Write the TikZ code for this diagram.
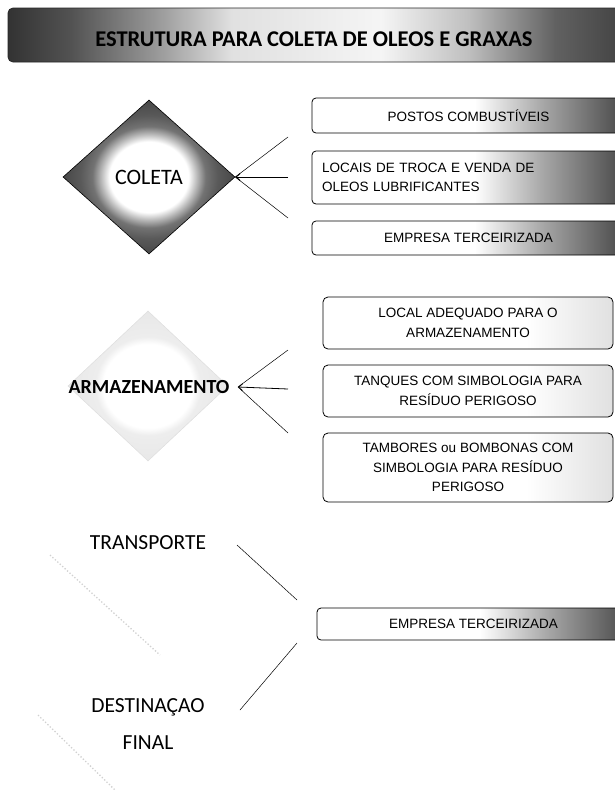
\documentclass[tikz,border=0pt]{standalone}
\usepackage{fontspec}
\setmainfont{Liberation Sans}
\newfontfamily\carlito{Carlito}
\usetikzlibrary{shapes.geometric,arrows.meta}

\pgfdeclarehorizontalshading{bannershade}{100bp}{color(0bp)=(black!80); color(25bp)=(black!80); color(30bp)=(black!68); color(37bp)=(black!40); color(43bp)=(black!12); color(55bp)=(black!4); color(62bp)=(black!25); color(69bp)=(black!62); color(75bp)=(black!75); color(100bp)=(black!75)}
\pgfdeclarehorizontalshading{boxshade}{100bp}{color(0bp)=(white); color(51bp)=(white); color(62bp)=(black!35); color(75bp)=(black!72); color(100bp)=(black!72)}
\pgfdeclarehorizontalshading{lightshade}{100bp}{color(0bp)=(white); color(60bp)=(white); color(75bp)=(black!12); color(100bp)=(black!12)}
\pgfdeclareradialshading{coletashade}{\pgfpoint{0bp}{0bp}}{color(0bp)=(white); color(11.5bp)=(white); color(14bp)=(black!28); color(16.5bp)=(black!55); color(20bp)=(black!65); color(25bp)=(black!72); color(50bp)=(black!72)}
\pgfdeclareradialshading{faintshade}{\pgfpoint{0bp}{0bp}}{color(0bp)=(white); color(14bp)=(white); color(16.5bp)=(black!7); color(25bp)=(black!9); color(50bp)=(black!9)}

\tikzset{
  conn/.style={draw=black, line width=0.5pt},
  midarrow/.style={draw=black, line width=1pt, -{Straight Barb[length=4pt,width=7pt]}},
  gbox/.style={draw=black, line width=0.8pt, rounded corners=4pt, shade, shading=boxshade,
    minimum width=313pt, inner sep=0pt, font=\fontsize{13.5}{19.5}\selectfont, align=center},
  wbox/.style={draw=black, line width=0.8pt, rounded corners=5pt, shade, shading=lightshade,
    minimum width=290pt, inner sep=0pt, font=\fontsize{13.5}{19.5}\selectfont, align=center},
  biglabel/.style={font=\carlito\fontsize{21.5}{37}\selectfont, align=center, inner sep=0pt},
  faint/.style={draw=black!18, dotted, line width=1.3pt},
}

\begin{document}
\begin{tikzpicture}[x=1pt,y=-1pt]
\useasboundingbox (0,0) rectangle (615,790);
\clip (0,0) rectangle (615,790);

% title banner
\shade[shading=bannershade, draw=black!85, line width=0.8pt, rounded corners=5pt] (8,8) rectangle (630,62);
\node[font=\carlito\bfseries\fontsize{22.5}{27}\selectfont, inner sep=0pt] (title) at (314,39) {ESTRUTURA PARA COLETA DE OLEOS E GRAXAS};

% COLETA
\node[diamond, shade, shading=coletashade, draw=black, line width=0.6pt, aspect=1.117,
  minimum width=172pt, minimum height=154pt, inner sep=0pt,
  font=\carlito\fontsize{22}{26}\selectfont] (coleta) at (149,177) {COLETA};

\node[gbox, minimum height=35pt] (postos) at (468.5,115.5) {POSTOS COMBUSTÍVEIS};
\node[gbox, minimum height=53pt, text width=293pt, align=left] (locais) at (468.5,177.5)
  {\makebox[278pt][s]{LOCAIS DE TROCA E VENDA DE}\\OLEOS LUBRIFICANTES};
\node[gbox, minimum height=34pt] (emp1) at (468.5,238) {EMPRESA TERCEIRIZADA};

\coordinate (c1a) at (288,137);
\coordinate (c1b) at (288,177);
\coordinate (c1c) at (288,218);
\draw[conn] (c1a) -- (coleta.east);
\draw[conn] (c1c) -- (coleta.east);
\draw[midarrow] (c1b) -- (coleta.east);

% ARMAZENAMENTO
\node[diamond, shade, shading=faintshade, draw=black!12, line width=0.6pt, aspect=1.07,
  minimum width=160pt, minimum height=150pt, inner sep=0pt] (armaz) at (148,386) {};
\node[font=\carlito\bfseries\fontsize{20}{24}\selectfont, inner sep=0pt] (armazt) at (149,387) {ARMAZENAMENTO};

\node[wbox, minimum height=52pt] (local) at (468,323) {LOCAL ADEQUADO PARA O\\ARMAZENAMENTO};
\node[wbox, minimum height=52pt] (tanq) at (468,391) {TANQUES COM SIMBOLOGIA PARA\\RESÍDUO PERIGOSO};
\node[wbox, minimum height=69pt] (tamb) at (468,467.5) {TAMBORES ou BOMBONAS COM\\SIMBOLOGIA PARA RESÍDUO\\PERIGOSO};

\coordinate (t2) at (238,387);
\coordinate (c2a) at (288,350);
\coordinate (c2b) at (288,389);
\coordinate (c2c) at (288,433);
\draw[conn] (c2a) -- (t2);
\draw[conn] (c2c) -- (t2);
\draw[midarrow, line width=0.8pt] (c2b) -- (t2);

% TRANSPORTE / DESTINACAO
\draw[faint] (50,555) -- (160,655);
\draw[faint] (38,715) -- (115,790);
\node[biglabel] (transp) at (148,543) {TRANSPORTE};
\node[biglabel] (dest) at (148,724) {DESTINAÇAO\\FINAL};

\node[gbox, minimum height=32pt] (emp2) at (473.5,624) {EMPRESA TERCEIRIZADA};

\coordinate (t1a) at (237,545);
\coordinate (t1b) at (297,600);
\coordinate (d1a) at (240,710);
\coordinate (d1b) at (297,643);
\draw[conn] (t1a) -- (t1b);
\draw[conn] (d1a) -- (d1b);
\end{tikzpicture}
\end{document}
